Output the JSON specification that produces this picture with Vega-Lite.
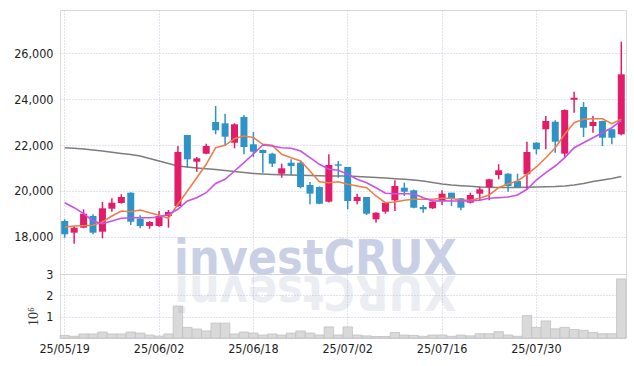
{
  "$schema": "https://vega.github.io/schema/vega-lite/v6.json",
  "autosize": {"type": "pad"},
  "padding": {"left": 13, "top": 9, "right": 0, "bottom": 0},
  "spacing": 0,
  "bounds": "flush",
  "config": {
    "view": {"stroke": "#d9d9d9", "strokeWidth": 1},
    "axis": {
      "domain": false, "ticks": false, "labelOverlap": false,
      "labelFont": "Liberation Sans Narrow, DejaVu Sans Condensed, sans-serif",
      "labelFontSize": 12.5, "labelColor": "#1e1e1e",
      "gridColor": "#c2c5da", "gridDash": [1, 2], "gridWidth": 1
    }
  },
  "datasets": {
    "k": [
      {"d": "25/05/19", "o": 18696, "h": 18770, "l": 17970, "c": 18117, "v": 0.12, "m5": 18435, "m20": 19491, "m60": 21883},
      {"d": "25/05/20", "o": 18187, "h": 18478, "l": 17709, "c": 18404, "v": 0.08, "m5": 18478, "m20": 19274, "m60": 21857},
      {"d": "25/05/21", "o": 18404, "h": 19204, "l": 18380, "c": 19013, "v": 0.19, "m5": 18491, "m20": 19013, "m60": 21826},
      {"d": "25/05/22", "o": 18913, "h": 18987, "l": 18117, "c": 18187, "v": 0.19, "m5": 18509, "m20": 18696, "m60": 21783},
      {"d": "25/05/23", "o": 18230, "h": 19522, "l": 17943, "c": 19248, "v": 0.28, "m5": 18652, "m20": 18578, "m60": 21739},
      {"d": "25/05/26", "o": 19230, "h": 19683, "l": 19100, "c": 19491, "v": 0.19, "m5": 18913, "m20": 18696, "m60": 21683},
      {"d": "25/05/27", "o": 19478, "h": 19857, "l": 19450, "c": 19739, "v": 0.19, "m5": 19130, "m20": 18813, "m60": 21631},
      {"d": "25/05/28", "o": 19926, "h": 19950, "l": 18522, "c": 18665, "v": 0.28, "m5": 19100, "m20": 18839, "m60": 21587},
      {"d": "25/05/29", "o": 18796, "h": 18943, "l": 18378, "c": 18478, "v": 0.23, "m5": 19174, "m20": 18839, "m60": 21522},
      {"d": "25/05/30", "o": 18478, "h": 18690, "l": 18361, "c": 18652, "v": 0.14, "m5": 19057, "m20": 18839, "m60": 21413},
      {"d": "25/06/02", "o": 18478, "h": 19130, "l": 18450, "c": 18913, "v": 0.09, "m5": 18943, "m20": 18870, "m60": 21304},
      {"d": "25/06/04", "o": 18913, "h": 19174, "l": 18404, "c": 19087, "v": 0.19, "m5": 18813, "m20": 18987, "m60": 21196},
      {"d": "25/06/05", "o": 19348, "h": 21957, "l": 19300, "c": 21696, "v": 1.5, "m5": 19422, "m20": 19204, "m60": 21087},
      {"d": "25/06/09", "o": 22435, "h": 22435, "l": 21013, "c": 21378, "v": 0.5, "m5": 20000, "m20": 19565, "m60": 21044},
      {"d": "25/06/10", "o": 21274, "h": 21478, "l": 20839, "c": 21422, "v": 0.42, "m5": 20578, "m20": 19709, "m60": 21000},
      {"d": "25/06/11", "o": 21622, "h": 22057, "l": 21600, "c": 21957, "v": 0.33, "m5": 21161, "m20": 19926, "m60": 20965},
      {"d": "25/06/12", "o": 23000, "h": 23696, "l": 22465, "c": 22639, "v": 0.7, "m5": 21883, "m20": 20326, "m60": 20935},
      {"d": "25/06/13", "o": 22943, "h": 23361, "l": 21957, "c": 22361, "v": 0.7, "m5": 21987, "m20": 20509, "m60": 20891},
      {"d": "25/06/16", "o": 22100, "h": 22943, "l": 21857, "c": 22900, "v": 0.19, "m5": 22274, "m20": 20870, "m60": 20848},
      {"d": "25/06/17", "o": 23218, "h": 23305, "l": 21596, "c": 21913, "v": 0.28, "m5": 22391, "m20": 21230, "m60": 20804},
      {"d": "25/06/18", "o": 22031, "h": 22565, "l": 21478, "c": 21709, "v": 0.23, "m5": 22326, "m20": 21609, "m60": 20761},
      {"d": "25/06/19", "o": 21783, "h": 21800, "l": 20796, "c": 21652, "v": 0.14, "m5": 22031, "m20": 22000, "m60": 20739},
      {"d": "25/06/20", "o": 21622, "h": 21665, "l": 21044, "c": 21187, "v": 0.19, "m5": 21987, "m20": 21957, "m60": 20717},
      {"d": "25/06/23", "o": 20752, "h": 21187, "l": 20578, "c": 20987, "v": 0.14, "m5": 21596, "m20": 21883, "m60": 20704},
      {"d": "25/06/24", "o": 21230, "h": 21378, "l": 20683, "c": 21087, "v": 0.23, "m5": 21448, "m20": 21857, "m60": 20696},
      {"d": "25/06/25", "o": 21230, "h": 21335, "l": 20117, "c": 20174, "v": 0.33, "m5": 21304, "m20": 21739, "m60": 20683},
      {"d": "25/06/26", "o": 20261, "h": 20391, "l": 19422, "c": 19883, "v": 0.23, "m5": 20870, "m20": 21448, "m60": 20674},
      {"d": "25/06/27", "o": 20174, "h": 20200, "l": 19430, "c": 19448, "v": 0.14, "m5": 20404, "m20": 21161, "m60": 20665},
      {"d": "25/06/30", "o": 19535, "h": 21596, "l": 19500, "c": 21131, "v": 0.52, "m5": 20361, "m20": 20943, "m60": 20652},
      {"d": "25/07/01", "o": 21161, "h": 21304, "l": 20578, "c": 21100, "v": 0.14, "m5": 20404, "m20": 20900, "m60": 20652},
      {"d": "25/07/02", "o": 21044, "h": 21044, "l": 19204, "c": 19565, "v": 0.52, "m5": 20291, "m20": 20726, "m60": 20652},
      {"d": "25/07/03", "o": 19565, "h": 19883, "l": 19422, "c": 19739, "v": 0.14, "m5": 20217, "m20": 20509, "m60": 20630},
      {"d": "25/07/04", "o": 19739, "h": 19739, "l": 18957, "c": 19013, "v": 0.1, "m5": 20143, "m20": 20361, "m60": 20609},
      {"d": "25/07/07", "o": 18770, "h": 19080, "l": 18622, "c": 19057, "v": 0.07, "m5": 19783, "m20": 20143, "m60": 20587},
      {"d": "25/07/08", "o": 19100, "h": 19500, "l": 19013, "c": 19491, "v": 0.07, "m5": 19491, "m20": 19900, "m60": 20565},
      {"d": "25/07/09", "o": 19596, "h": 20465, "l": 19130, "c": 20217, "v": 0.26, "m5": 19522, "m20": 19883, "m60": 20535},
      {"d": "25/07/10", "o": 20143, "h": 20361, "l": 19783, "c": 19970, "v": 0.14, "m5": 19596, "m20": 19883, "m60": 20509},
      {"d": "25/07/11", "o": 20030, "h": 20070, "l": 19250, "c": 19274, "v": 0.12, "m5": 19639, "m20": 19883, "m60": 20478},
      {"d": "25/07/14", "o": 19304, "h": 19391, "l": 19057, "c": 19204, "v": 0.08, "m5": 19639, "m20": 19709, "m60": 20435},
      {"d": "25/07/15", "o": 19248, "h": 19560, "l": 19220, "c": 19535, "v": 0.14, "m5": 19639, "m20": 19565, "m60": 20370},
      {"d": "25/07/16", "o": 19565, "h": 20030, "l": 19391, "c": 19883, "v": 0.14, "m5": 19683, "m20": 19578, "m60": 20304},
      {"d": "25/07/17", "o": 19926, "h": 19926, "l": 19348, "c": 19683, "v": 0.08, "m5": 19683, "m20": 19565, "m60": 20261},
      {"d": "25/07/18", "o": 19683, "h": 19700, "l": 19161, "c": 19274, "v": 0.14, "m5": 19596, "m20": 19565, "m60": 20230},
      {"d": "25/07/21", "o": 19491, "h": 19926, "l": 19460, "c": 19826, "v": 0.1, "m5": 19596, "m20": 19565, "m60": 20204},
      {"d": "25/07/22", "o": 19883, "h": 20187, "l": 19596, "c": 20074, "v": 0.2, "m5": 19683, "m20": 19596, "m60": 20174},
      {"d": "25/07/23", "o": 20174, "h": 20530, "l": 19596, "c": 20509, "v": 0.2, "m5": 19826, "m20": 19683, "m60": 20161},
      {"d": "25/07/24", "o": 20696, "h": 21161, "l": 20509, "c": 20900, "v": 0.3, "m5": 20143, "m20": 19709, "m60": 20152},
      {"d": "25/07/25", "o": 20752, "h": 20770, "l": 19970, "c": 20217, "v": 0.14, "m5": 20317, "m20": 19739, "m60": 20152},
      {"d": "25/07/28", "o": 20435, "h": 20752, "l": 20150, "c": 20174, "v": 0.08, "m5": 20435, "m20": 19826, "m60": 20152},
      {"d": "25/07/29", "o": 20726, "h": 22144, "l": 20074, "c": 21696, "v": 1.05, "m5": 20726, "m20": 20074, "m60": 20161},
      {"d": "25/07/30", "o": 22100, "h": 22120, "l": 21596, "c": 21813, "v": 0.5, "m5": 21044, "m20": 20478, "m60": 20174},
      {"d": "25/07/31", "o": 22683, "h": 23261, "l": 21813, "c": 23044, "v": 0.8, "m5": 21448, "m20": 20796, "m60": 20187},
      {"d": "25/08/01", "o": 23013, "h": 23074, "l": 21665, "c": 22144, "v": 0.43, "m5": 21883, "m20": 21087, "m60": 20196},
      {"d": "25/08/04", "o": 21622, "h": 23550, "l": 21448, "c": 23522, "v": 0.5, "m5": 22465, "m20": 21448, "m60": 20217},
      {"d": "25/08/05", "o": 23970, "h": 24318, "l": 23404, "c": 24057, "v": 0.4, "m5": 22970, "m20": 21883, "m60": 20261},
      {"d": "25/08/06", "o": 23652, "h": 23870, "l": 22348, "c": 22752, "v": 0.36, "m5": 23118, "m20": 22100, "m60": 20326},
      {"d": "25/08/07", "o": 22826, "h": 23261, "l": 22535, "c": 23000, "v": 0.26, "m5": 23144, "m20": 22318, "m60": 20413},
      {"d": "25/08/08", "o": 23044, "h": 23060, "l": 21957, "c": 22318, "v": 0.2, "m5": 23144, "m20": 22535, "m60": 20478},
      {"d": "25/08/11", "o": 22683, "h": 22700, "l": 22031, "c": 22318, "v": 0.2, "m5": 22926, "m20": 22752, "m60": 20544},
      {"d": "25/08/12", "o": 22465, "h": 26492, "l": 22422, "c": 25074, "v": 2.77, "m5": 23118, "m20": 23074, "m60": 20630}
    ],
    "wm": [{"t": "investCRUX", "r": "XURCtsevni", "d": "25/06/27", "p": 16370, "vv": 2.92}]
  },
  "vconcat": [
    {
      "width": 566, "height": 264,
      "encoding": {
        "x": {"field": "d", "type": "nominal",
          "scale": {"type": "band", "paddingInner": 0, "paddingOuter": 0,
            "domain": ["25/05/19","25/05/20","25/05/21","25/05/22","25/05/23","25/05/26","25/05/27","25/05/28","25/05/29","25/05/30","25/06/02","25/06/04","25/06/05","25/06/09","25/06/10","25/06/11","25/06/12","25/06/13","25/06/16","25/06/17","25/06/18","25/06/19","25/06/20","25/06/23","25/06/24","25/06/25","25/06/26","25/06/27","25/06/30","25/07/01","25/07/02","25/07/03","25/07/04","25/07/07","25/07/08","25/07/09","25/07/10","25/07/11","25/07/14","25/07/15","25/07/16","25/07/17","25/07/18","25/07/21","25/07/22","25/07/23","25/07/24","25/07/25","25/07/28","25/07/29","25/07/30","25/07/31","25/08/01","25/08/04","25/08/05","25/08/06","25/08/07","25/08/08","25/08/11","25/08/12"]},
          "axis": {"title": null, "labels": false, "grid": true, "bandPosition": 0.5, "minExtent": 0, "maxExtent": 0, "labelPadding": 0, "values": ["25/05/19", "25/06/02", "25/06/18", "25/07/02", "25/07/16", "25/07/30"]}}
      },
      "layer": [
        {
          "data": {"name": "wm"},
          "mark": {"type": "text", "font": "Liberation Sans Narrow, DejaVu Sans Condensed, sans-serif", "fontWeight": "bold", "fontSize": 48, "align": "center", "baseline": "alphabetic", "color": "#c9d0e5", "dx": -4},
          "encoding": {
            "y": {"field": "p", "type": "quantitative", "scale": {"domain": [16391, 27870], "nice": false, "zero": false},
              "axis": {"title": null, "values": [18000, 20000, 22000, 24000, 26000], "format": ",.0f", "labelPadding": 7}},
            "text": {"field": "t"}
          }
        },
        {
          "data": {"name": "k"},
          "mark": {"type": "line", "color": "#7d7d7d", "strokeWidth": 1.6},
          "encoding": {
            "y": {"field": "m60", "type": "quantitative"}
          }
        },
        {
          "data": {"name": "k"},
          "mark": {"type": "rule", "strokeWidth": 1.5},
          "encoding": {
            "y": {"field": "l", "type": "quantitative"},
            "y2": {"field": "h"},
            "color": {"condition": {"test": "datum.c >= datum.o", "value": "#e31c69"}, "value": "#2e93c6"}
          }
        },
        {
          "data": {"name": "k"},
          "mark": {"type": "bar", "size": 7},
          "encoding": {
            "y": {"field": "o", "type": "quantitative"},
            "y2": {"field": "c"},
            "color": {"condition": {"test": "datum.c >= datum.o", "value": "#e31c69"}, "value": "#2e93c6"}
          }
        },
        {
          "data": {"name": "k"},
          "mark": {"type": "line", "color": "#ee7e48", "strokeWidth": 1.6},
          "encoding": {
            "y": {"field": "m5", "type": "quantitative"}
          }
        },
        {
          "data": {"name": "k"},
          "mark": {"type": "line", "color": "#c950e8", "strokeWidth": 1.6},
          "encoding": {
            "y": {"field": "m20", "type": "quantitative"}
          }
        }
      ]
    },
    {
      "width": 566, "height": 64,
      "encoding": {
        "x": {"field": "d", "type": "nominal",
          "scale": {"type": "band", "paddingInner": 0, "paddingOuter": 0,
            "domain": ["25/05/19","25/05/20","25/05/21","25/05/22","25/05/23","25/05/26","25/05/27","25/05/28","25/05/29","25/05/30","25/06/02","25/06/04","25/06/05","25/06/09","25/06/10","25/06/11","25/06/12","25/06/13","25/06/16","25/06/17","25/06/18","25/06/19","25/06/20","25/06/23","25/06/24","25/06/25","25/06/26","25/06/27","25/06/30","25/07/01","25/07/02","25/07/03","25/07/04","25/07/07","25/07/08","25/07/09","25/07/10","25/07/11","25/07/14","25/07/15","25/07/16","25/07/17","25/07/18","25/07/21","25/07/22","25/07/23","25/07/24","25/07/25","25/07/28","25/07/29","25/07/30","25/07/31","25/08/01","25/08/04","25/08/05","25/08/06","25/08/07","25/08/08","25/08/11","25/08/12"]},
          "axis": {"title": null, "grid": true, "bandPosition": 0.5, "labelAngle": 0, "labelPadding": 4, "values": ["25/05/19", "25/06/02", "25/06/18", "25/07/02", "25/07/16", "25/07/30"]}}
      },
      "layer": [
        {
          "data": {"name": "k"},
          "mark": {"type": "bar", "fill": "#d9d9d9", "stroke": "#c2c2c2", "strokeWidth": 0.8},
          "encoding": {
            "y": {"field": "v", "type": "quantitative", "scale": {"domain": [0, 3], "nice": false},
              "axis": {"title": "10⁶", "titleFont": "Liberation Serif", "titleFontSize": 14, "titleFontWeight": "normal", "titleColor": "#333333", "titlePadding": 5, "titleY": 42, "tickCount": 3, "labelExpr": "datum.value == 0 ? '' : datum.label", "labelPadding": 7, "labelOverlap": false, "labelBound": false, "labelFlush": false}}
          }
        },
        {
          "data": {"name": "wm"},
          "mark": {"type": "text", "font": "Liberation Sans Narrow, DejaVu Sans Condensed, sans-serif", "fontWeight": "bold", "fontSize": 48, "align": "center", "baseline": "alphabetic", "angle": 180, "color": "#a8b0cc", "opacity": 0.22, "dx": 4},
          "encoding": {
            "y": {"field": "vv", "type": "quantitative"},
            "text": {"field": "r"}
          }
        }
      ]
    }
  ]
}
